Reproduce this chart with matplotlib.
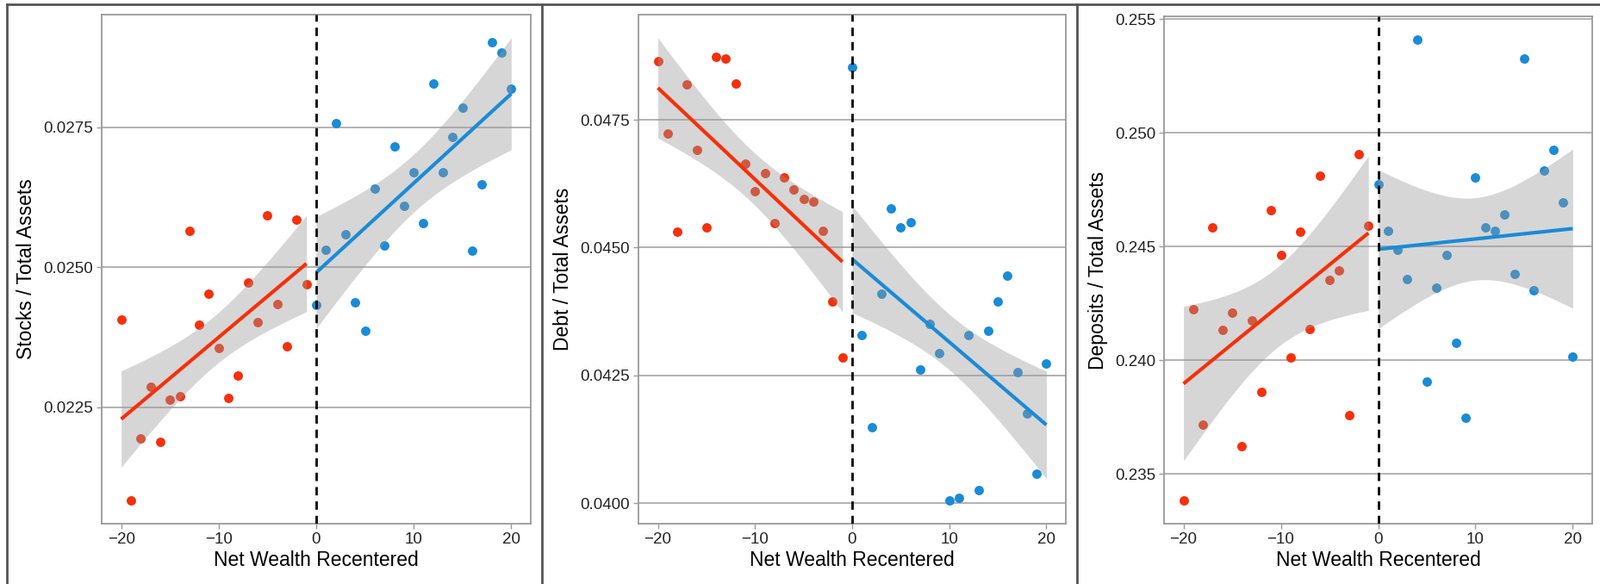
import numpy as np
import matplotlib
matplotlib.use("Agg")
import matplotlib.pyplot as plt
from matplotlib.lines import Line2D

plt.rcParams["font.family"] = ["Liberation Sans", "DejaVu Sans"]

# x values (net wealth recentered)
x_left = list(range(-20, 0))
x_right = list(range(0, 21))

# Stocks / Total Assets
stocks_left = [0.02406, 0.02083, 0.02194, 0.02286, 0.02188, 0.02264, 0.02270, 0.02565,
               0.02397, 0.02453, 0.02356, 0.02266, 0.02306, 0.02473, 0.02402, 0.02593,
               0.02434, 0.02358, 0.02585, 0.02469]
stocks_right = [0.02433, 0.02531, 0.02757, 0.02559, 0.02437, 0.02387, 0.02641, 0.02538,
                0.02715, 0.02609, 0.02669, 0.02578, 0.02828, 0.02670, 0.02733, 0.02785,
                0.02529, 0.02648, 0.02902, 0.02883, 0.02818]

# Debt / Total Assets
debt_left = [0.04865, 0.04724, 0.04531, 0.04820, 0.04691, 0.04539, 0.04873, 0.04870,
             0.04821, 0.04665, 0.04611, 0.04645, 0.04548, 0.04637, 0.04613, 0.04595,
             0.04590, 0.04533, 0.04394, 0.04285]
debt_right = [0.04853, 0.04329, 0.04148, 0.04410, 0.04577, 0.04540, 0.04550, 0.04262,
              0.04350, 0.04293, 0.04005, 0.04010, 0.04329, 0.04025, 0.04337, 0.04395,
              0.04446, 0.04256, 0.04176, 0.04057, 0.04274]

# Deposits / Total Assets
dep_left = [0.23383, 0.24223, 0.23719, 0.24586, 0.24133, 0.24210, 0.23621, 0.24176,
            0.23861, 0.24660, 0.24464, 0.24014, 0.24564, 0.24137, 0.24811, 0.24353,
            0.24397, 0.23758, 0.24906, 0.24593]
dep_right = [0.24775, 0.24568, 0.24487, 0.24358, 0.25411, 0.23907, 0.24321, 0.24463,
             0.24078, 0.23749, 0.24806, 0.24586, 0.24570, 0.24643, 0.24379, 0.25328,
             0.24308, 0.24836, 0.24925, 0.24694, 0.24018]

# 95% band half-width at the ends of each fit (left, right)
band_end_hw = [(0.00086, 0.00100), (0.00098, 0.00105), (0.00340, 0.00350)]

ylabels = ["Stocks / Total Assets", "Debt / Total Assets", "Deposits / Total Assets"]
yticks = [[0.0225, 0.0250, 0.0275],
          [0.0400, 0.0425, 0.0450, 0.0475],
          [0.235, 0.240, 0.245, 0.250, 0.255]]
ytick_fmt = ["{:.4f}", "{:.4f}", "{:.3f}"]
xticks = [-20, -10, 0, 10, 20]

RED = "#F5300A"
BLUE = "#1A8BD6"


def lm_band(x, y, end_hw, npts=80):
    # OLS fit; band has the usual hyperbolic shape, scaled to the end half-width
    x = np.asarray(x, float)
    y = np.asarray(y, float)
    n = len(x)
    b, a = np.polyfit(x, y, 1)
    xg = np.linspace(x.min(), x.max(), npts)
    yg = a + b * xg
    sxx = np.sum((x - x.mean()) ** 2)
    shape = np.sqrt(1 / n + (xg - x.mean()) ** 2 / sxx)
    hw = end_hw * shape / shape.max()
    return xg, yg, yg - hw, yg + hw


W, H = 1858, 678
fig = plt.figure(figsize=(W / 100, H / 100), dpi=100)

boxes = [(118, 616, 17), (741, 1237, 17), (1351, 1848, 19)]
bottom = 608
datasets = [(stocks_left, stocks_right), (debt_left, debt_right), (dep_left, dep_right)]

for i, ((l, r, t), (yl, yr)) in enumerate(zip(boxes, datasets)):
    ax = fig.add_axes([l / W, (H - bottom) / H, (r - l) / W, (bottom - t) / H])
    lo_all, hi_all = [], []
    ax.scatter(x_left, yl, s=62, color=RED, zorder=2, linewidths=0)
    ax.scatter(x_right, yr, s=62, color=BLUE, zorder=2, linewidths=0)
    for (xs, ys, c), hw in zip([(x_left, yl, RED), (x_right, yr, BLUE)], band_end_hw[i]):
        xg, yg, lo, hi = lm_band(xs, ys, hw)
        ax.fill_between(xg, lo, hi, color="#999999", alpha=0.4, linewidth=0, zorder=3)
        ax.plot(xg, yg, color=c, lw=3.0, zorder=4, solid_capstyle="butt")
        lo_all += list(lo) + list(ys)
        hi_all += list(hi) + list(ys)
    ymin, ymax = min(lo_all), max(hi_all)
    pad = 0.05 * (ymax - ymin)
    ax.set_ylim(ymin - pad, ymax + pad)
    ax.set_xlim(-22, 22)
    ax.axvline(0, color="black", lw=2.0, ls=(0, (3.5, 2.5)), zorder=5)

    ax.set_yticks(yticks[i])
    ax.set_yticklabels([ytick_fmt[i].format(v) for v in yticks[i]])
    ax.set_xticks(xticks)
    ax.set_xticklabels(["\u221220", "\u221210", "0", "10", "20"])
    ax.yaxis.grid(True, color="#ADADAD", lw=1.3, zorder=0)
    ax.set_axisbelow(True)
    for sp in ax.spines.values():
        sp.set_color("#9A9A9A")
        sp.set_linewidth(1.3)
    ax.tick_params(axis="both", colors="#9A9A9A", length=4, width=1.0,
                   labelsize=13.5, labelcolor="#222222", pad=3)
    ax.set_xlabel("Net Wealth Recentered", fontsize=16.5, color="black", labelpad=3)
    ax.set_ylabel(ylabels[i], fontsize=16.5, color="black", labelpad=6)

# frame lines around the panels
frame = dict(color="#555555", lw=2.0, transform=fig.transFigure)
fig.add_artist(Line2D([8 / W, 1], [1 - 5 / H, 1 - 5 / H], **frame))
for xp in [8, 629, 1250]:
    fig.add_artist(Line2D([xp / W, xp / W], [0, 1 - 5 / H], **frame))

fig.savefig("out.png", dpi=100)
